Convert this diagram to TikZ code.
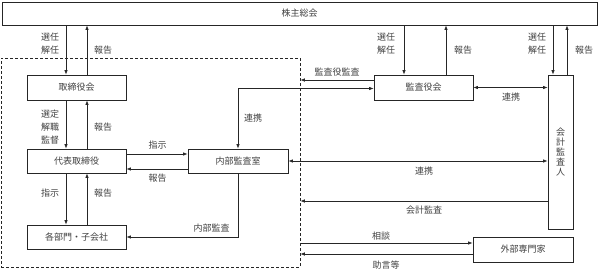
\documentclass[tikz,border=0pt]{standalone}
\usepackage{fontspec}
\setmainfont{Noto Sans CJK JP}
\usetikzlibrary{arrows.meta,calc}
\begin{document}
\begin{tikzpicture}[x=1pt,y=-1pt,
  box/.style={draw=black!85,line width=0.8pt,fill=white,inner sep=0pt,font=\fontsize{9}{10}\selectfont,text=black!75},
  grpbox/.style={draw=black!85,line width=0.7pt,dash pattern=on 3pt off 2pt,inner sep=0pt},
  lbl/.style={font=\fontsize{9}{13}\selectfont,text=black!75,align=center,inner sep=0pt},
  arr/.style={draw=black!85,line width=0.7pt,-{Latex[length=4.5pt,width=3.5pt]}},
  arrb/.style={draw=black!85,line width=0.7pt,{Latex[length=4.5pt,width=3.5pt]}-{Latex[length=4.5pt,width=3.5pt]}}]
\useasboundingbox (0,0) rectangle (600,276);
\node[grpbox,minimum width=299pt,minimum height=209pt] (grp) at (150.5,162.5) {};
\node[box,minimum width=595pt,minimum height=23pt] (kabu) at (299.5,13.5) {株主総会};
\node[box,minimum width=99pt,minimum height=25pt] (tb) at (76.5,87.5) {取締役会};
\node[box,minimum width=99pt,minimum height=24pt] (dai) at (76.5,161) {代表取締役};
\node[box,minimum width=99pt,minimum height=24pt] (kaku) at (76.5,237) {各部門・子会社};
\node[box,minimum width=100pt,minimum height=24pt] (nai) at (238,161) {内部監査室};
\node[box,minimum width=99pt,minimum height=25pt] (kan) at (423.5,87.5) {監査役会};
\node[box,minimum width=25pt,minimum height=154pt,align=center,font=\fontsize{9}{10}\selectfont] (kai) at (560.5,152) {会\\計\\監\\査\\人};
\node[box,minimum width=100pt,minimum height=25pt] (gai) at (523,249.5) {外部専門家};
% coordinates
\coordinate (tbd) at ($(tb.north)+(-10.5,0)$);
\coordinate (tbu) at ($(tb.north)+(10.5,0)$);
\coordinate (dad) at ($(dai.north)+(-10.5,0)$);
\coordinate (dau) at ($(dai.north)+(10.5,0)$);
\coordinate (kkd) at ($(kaku.north)+(-10.5,0)$);
\coordinate (kku) at ($(kaku.north)+(10.5,0)$);
\coordinate (kand) at ($(kan.north)+(-19.5,0)$);
\coordinate (kanu) at ($(kan.north)+(22.5,0)$);
\coordinate (kaid) at ($(kai.north)+(-7.5,0)$);
\coordinate (kaiu) at ($(kai.north)+(6.5,0)$);
\coordinate (dsi) at ($(dai.east)+(0,-7)$);
\coordinate (dho) at ($(dai.east)+(0,8)$);
\coordinate (kans) at ($(kan.west)+(0,-7.5)$);
\coordinate (kanr) at ($(kan.west)+(0,1)$);
\coordinate (kaik) at ($(kai.west)+(0,49)$);
\coordinate (gais) at ($(gai.west)+(0,-6.5)$);
\coordinate (gaij) at ($(gai.west)+(0,4.5)$);
% arrows
\draw[arr] (kabu.south -| tbd) -- (tbd);
\draw[arr] (tbu) -- (kabu.south -| tbu);
\draw[arr] (tb.south -| dad) -- (dad);
\draw[arr] (dau) -- (tb.south -| dau);
\draw[arr] (dai.south -| kkd) -- (kkd);
\draw[arr] (kku) -- (dai.south -| kku);
\draw[arr] (dsi) -- (dsi -| nai.west);
\draw[arr] (dho -| nai.west) -- (dho);
\draw[arr] (nai.south) |- (kaku.east);
\draw[arrb] (nai.north) |- (kanr);
\draw[arr] (kans) -- (kans -| grp.east);
\draw[arr] (kabu.south -| kand) -- (kand);
\draw[arr] (kanu) -- (kabu.south -| kanu);
\draw[arr] (kabu.south -| kaid) -- (kaid);
\draw[arr] (kaiu) -- (kabu.south -| kaiu);
\draw[arrb] (kan.east) -- (kan.east -| kai.west);
\draw[arrb] (nai.east) -- (nai.east -| kai.west);
\draw[arr] (kaik) -- (kaik -| grp.east);
\draw[arr] (gais -| grp.east) -- (gais);
\draw[arr] (gaij) -- (gaij -| grp.east);
% labels
\node[lbl] (l1) at (50,43.5) {選任\\解任};
\node[lbl] (l2) at (103,50) {報告};
\node[lbl] (l3) at (50,127) {選定\\解職\\監督};
\node[lbl] (l4) at (103,127) {報告};
\node[lbl] (l5) at (50,193) {指示};
\node[lbl] (l6) at (103,193) {報告};
\node[lbl] (l7) at (157.5,145) {指示};
\node[lbl] (l8) at (157.5,178) {報告};
\node[lbl] (l9) at (211.5,228) {内部監査};
\node[lbl] (l10) at (253,118) {連携};
\node[lbl] (l11) at (337,72) {監査役監査};
\node[lbl] (l12) at (386,43.5) {選任\\解任};
\node[lbl] (l13) at (463,50) {報告};
\node[lbl] (l14) at (537,43.5) {選任\\解任};
\node[lbl] (l15) at (584,50) {報告};
\node[lbl] (l16) at (511,97) {連携};
\node[lbl] (l17) at (424,171) {連携};
\node[lbl] (l18) at (424,210) {会計監査};
\node[lbl] (l19) at (381,236) {相談};
\node[lbl] (l20) at (386,265) {助言等};
\end{tikzpicture}
\end{document}
